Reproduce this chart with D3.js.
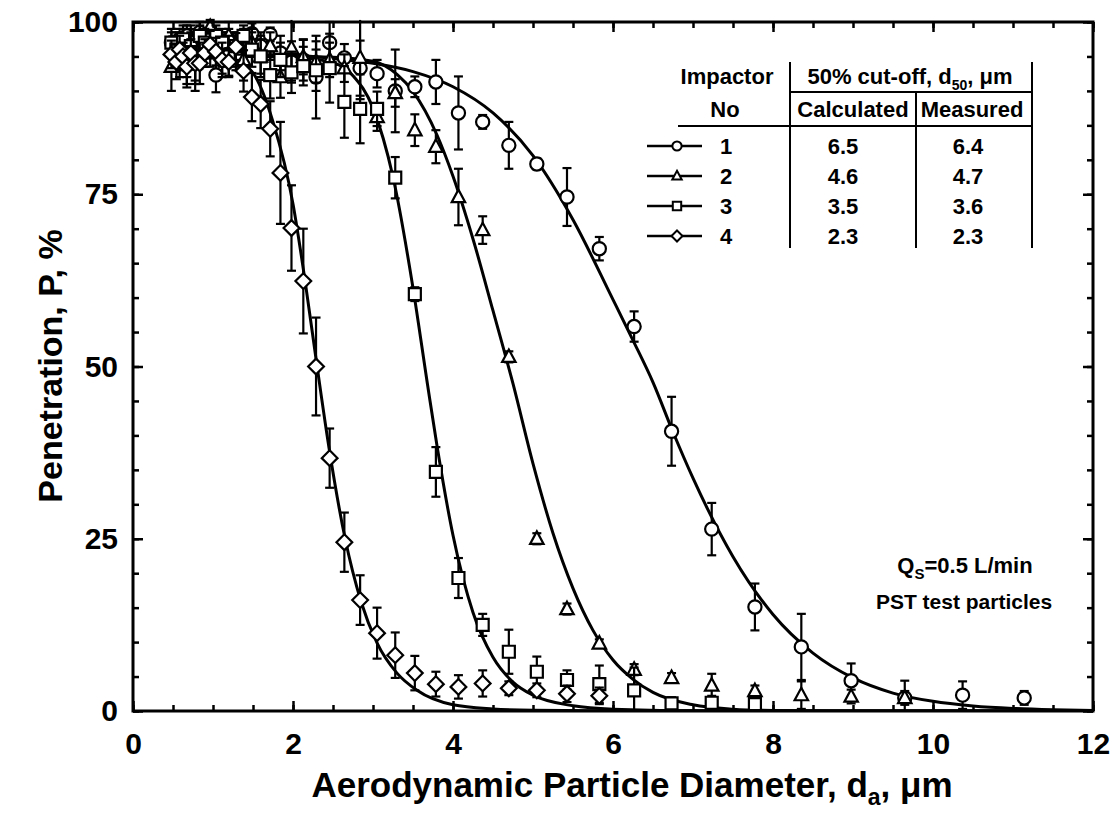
<!DOCTYPE html>
<html><head><meta charset="utf-8">
<script src="https://cdn.jsdelivr.net/npm/d3@7/dist/d3.min.js"></script>
<style>
body{margin:0;background:#fff}
svg{display:block}
text{font-family:"Liberation Sans",Arial,sans-serif;font-weight:bold;fill:#000}
</style>
</head><body>
<svg id="chart" width="1117" height="827"></svg>
<script>
// ---------- data ----------
const xTickValues = [0, 2, 4, 6, 8, 10, 12];
const yTickValues = [0, 25, 50, 75, 100];
const xTickLabels = ["0", "2", "4", "6", "8", "10", "12"];
const yTickLabels = ["0", "25", "50", "75", "100"];

// aerodynamic diameters (µm) of the measured channels
const diameters = [0.48,0.542,0.583,0.626,0.673,0.723,0.777,0.835,0.898,0.965,
  1.037,1.114,1.197,1.286,1.382,1.486,1.596,1.715,1.843,1.981,
  2.129,2.288,2.458,2.642,2.839,3.051,3.278,3.523,3.786,4.068,
  4.371,4.698,5.048,5.425,5.829,6.264,6.732,7.234,7.774,8.354,
  8.977,9.647,10.37,11.14];

// Impactor 1 (circles)
const pen1 = [97,96,97.5,96.5,98,97,96,98.5,97,98, 92.3,96,97.5,95,97,98.3,96.5,98.2,95.5,94.2,
  94.5,92,97,94.8,93.3,92.5,90,90.6,91.3,86.8, 85.5,82.1,79.4,74.6,67.1,55.8,40.6,26.4,15.1,9.3, 4.4,1.9,2.3,1.9];
const err1 = [1.5,2,1.5,2,1.5,2,2.5,1.5,2,2, 2.5,2.5,1.5,2,2,1.5,2,1,2.5,3,
  3,6,3,2,4,2,6,1.5,3.2,5.3, 1,3.4,0.8,4.2,1.7,2.2,5,3.8,3.4,4.8, 2.5,2.5,2,1];
// Impactor 2 (triangles)
const pen2 = [93.5,95,96,97,95,97.5,94,98,96,99.3, 97,95.5,98,96,94.5,97,95,96.5,92,96.2,
  94.9,94.2,94.5,93.3,94.8,86.2,89.7,84.3,81.9,74.6, 69.8,51.4,25,14.8,9.8,6,4.8,3.7,2.9,2.3, 2.1,1.9];
const err2 = [3.5,2,2.5,2,3,2,3,2,2.5,1, 2,3,2,2.5,3,2,2.5,2,3,4.7,
  2.5,3,2.5,2,6,2,2,2.3,2.4,4.1, 2,0.8,0.8,0.8,0.6,0.8,0.7,1.7,0.8,2, 1,1];
// Impactor 3 (squares)
const pen3 = [97,96,95,97.5,94,96.5,94,98,97,96, 98,97,95,96.5,98,96,95,92.3,94.5,92.7,
  93.6,93,93.3,88.4,87.4,87.4,77.4,60.5,34.7,19.3, 12.5,8.6,5.7,4.5,3.9,3.0,1.1,1.2,1.0];
const err3 = [2,2.5,3,2,3,2,4,1.5,2,2.5, 1.5,2,3,2,1.5,2.5,3,3.4,2.5,3,
  2.8,3,5,5.2,5,2.5,3,1,3.6,2.9, 1.6,3.2,2.2,1.4,2.7,3.3,0.9,1,0.8];
// Impactor 4 (diamonds)
const pen4 = [95.3,94.2,96,95,93.5,95.5,94,94,95.5,96.7, 95.7,94.5,94.2,96.4,92.9,89.1,88.1,84.5,78.1,70.1,
  62.4,50,36.7,24.5,16.1,11.3,8.1,5.5,3.9,3.5, 4.0,3.3,3.0,2.5,2.2];
const err4 = [2,2.5,2,2,3,2,2.5,3,2,2, 2,2.5,2,2,3,3.5,3.5,4,7.4,6.2,
  7.6,7.1,4.3,4.3,3.6,3.7,3.3,2.5,1.8,1.7, 1.9,1,1,1.2,1.2];

// fitted curves: [diameter, penetration]
const fit1 = [[0.5,95.3],[1,95.3],[1.5,95.3],[2,95.2],[2.5,94.7],[3,94],[3.5,92.8],[4,90.6],[4.5,86.8],[5,80.6],
  [5.5,71.3],[6,59.7],[6.25,53.8],[6.5,47.7],[6.75,40.5],[7,33.8],[7.5,22.4],[8,14],[8.5,8.4],[9,4.8],
  [9.5,2.6],[10,1.4],[10.5,0.74],[11,0.38],[11.5,0.19],[12,0.09]];
const fit2 = [[0.5,95],[1.5,95],[2,95],[2.5,94.9],[3,94.3],[3.3,92.4],[3.5,89.9],[3.8,83.6],[4,77.6],[4.25,68.5],
  [4.5,58.1],[4.75,47.5],[5,35.9],[5.25,25.8],[5.5,17.8],[5.75,11.7],[6,7.4],[6.25,4.6],[6.5,2.7],[7,0.9],
  [7.5,0.27],[8,0.08],[9,0.01],[12,0]];
const fit3 = [[0.5,95],[1.5,95],[2,94.9],[2.5,94.1],[2.75,92.2],[3,87.5],[3.25,77.5],[3.5,61.4],[3.68,47.5],
  [3.8,38.5],[4,25.5],[4.25,14.3],[4.5,7.8],[4.75,4.2],[5,2.3],[5.5,0.76],[6,0.27],[7,0.04],[8,0.01],[12,0]];
const fit4 = [[0.5,95.3],[1,95.2],[1.25,94.6],[1.5,92.6],[1.75,85.5],[2,73.6],[2.15,62.5],[2.3,50.1],[2.45,38.2],
  [2.65,25.1],[2.85,15.9],[3.05,9.9],[3.3,5.5],[3.55,3.0],[4,0.9],[4.5,0.3],[5,0.1],[6,0.02],[12,0]];

// legend table
const impactorNo = ["1", "2", "3", "4"];
const calcD50 = ["6.5", "4.6", "3.5", "2.3"];
const measD50 = ["6.4", "4.7", "3.6", "2.3"];

// ---------- layout ----------
const svg = d3.select("#chart");
const X0 = 133, X1 = 1093, Y0 = 22, Y1 = 711;
const x = d3.scaleLinear().domain([0, 12]).range([X0, X1]);
const y = d3.scaleLinear().domain([0, 100]).range([Y1, Y0]);

// marker shapes
const shapes = {
  circle: r => `M${-r},0A${r},${r} 0 1,0 ${r},0A${r},${r} 0 1,0 ${-r},0Z`,
  triangle: r => `M0,${-r*1.15}L${r*1.05},${r*0.8}L${-r*1.05},${r*0.8}Z`,
  square: r => `M${-r},${-r}H${r}V${r}H${-r}Z`,
  diamond: r => `M0,${-r*1.25}L${r*1.25},0L0,${r*1.25}L${-r*1.25},0Z`
};
const seriesList = [
  {pen: pen1, err: err1, fit: fit1, shape: "circle", r: 6.6},
  {pen: pen2, err: err2, fit: fit2, shape: "triangle", r: 6.4},
  {pen: pen3, err: err3, fit: fit3, shape: "square", r: 6},
  {pen: pen4, err: err4, fit: fit4, shape: "diamond", r: 6.3}
];

// curves
const line = d3.line().x(d => x(d[0])).y(d => y(d[1])).curve(d3.curveMonotoneX);
const plot = svg.append("g");
plot.append("defs").append("clipPath").attr("id", "clip")
  .append("rect").attr("x", X0).attr("y", Y0 - 10).attr("width", X1 - X0).attr("height", Y1 - Y0 + 10);
seriesList.forEach(s => {
  plot.append("path").datum(s.fit).attr("d", line)
    .attr("fill", "none").attr("stroke", "#000").attr("stroke-width", 3)
    .attr("clip-path", "url(#clip)");
});

// error bars + markers
seriesList.forEach(s => {
  const pts = s.pen.map((p, i) => ({d: diameters[i], p: p, e: s.err[i]}));
  const g = plot.append("g");
  const eb = g.selectAll("g.eb").data(pts).join("g").attr("class", "eb");
  eb.append("line").attr("x1", d => x(d.d)).attr("x2", d => x(d.d))
    .attr("y1", d => y(Math.min(100.3, d.p + d.e))).attr("y2", d => y(Math.max(0, d.p - d.e)))
    .attr("stroke", "#000").attr("stroke-width", 2.2);
  eb.filter(d => d.p + d.e <= 100.3).append("line")
    .attr("x1", d => x(d.d) - 4.5).attr("x2", d => x(d.d) + 4.5)
    .attr("y1", d => y(d.p + d.e)).attr("y2", d => y(d.p + d.e))
    .attr("stroke", "#000").attr("stroke-width", 2.2);
  eb.filter(d => d.p - d.e >= 0).append("line")
    .attr("x1", d => x(d.d) - 4.5).attr("x2", d => x(d.d) + 4.5)
    .attr("y1", d => y(d.p - d.e)).attr("y2", d => y(d.p - d.e))
    .attr("stroke", "#000").attr("stroke-width", 2.2);
  g.selectAll("path.m").data(pts).join("path").attr("class", "m")
    .attr("d", shapes[s.shape](s.r))
    .attr("transform", d => `translate(${x(d.d)},${y(d.p)})`)
    .attr("fill", "#fff").attr("stroke", "#000").attr("stroke-width", 2.2);
});

// ---------- axes ----------
const minorX = d3.range(0, 12.01, 0.5);
const minorY = d3.range(0, 100.1, 5);
const axB = d3.axisBottom(x).tickValues(xTickValues).tickFormat((d, i) => xTickLabels[i]).tickSizeInner(-10).tickSizeOuter(0).tickPadding(22);
const axL = d3.axisLeft(y).tickValues(yTickValues).tickFormat((d, i) => yTickLabels[i]).tickSizeInner(-10).tickSizeOuter(0).tickPadding(15);
const axT = d3.axisTop(x).tickValues(xTickValues).tickFormat("").tickSizeInner(-10).tickSizeOuter(0);
const axR = d3.axisRight(y).tickValues(yTickValues).tickFormat("").tickSizeInner(-10).tickSizeOuter(0);
const mB = d3.axisBottom(x).tickValues(minorX).tickFormat("").tickSizeInner(-6).tickSizeOuter(0);
const mL = d3.axisLeft(y).tickValues(minorY).tickFormat("").tickSizeInner(-6).tickSizeOuter(0);
const mT = d3.axisTop(x).tickValues(minorX).tickFormat("").tickSizeInner(-6).tickSizeOuter(0);
const mR = d3.axisRight(y).tickValues(minorY).tickFormat("").tickSizeInner(-6).tickSizeOuter(0);

function styleAxis(g) {
  g.selectAll("path.domain").remove();
  g.selectAll("line").attr("stroke", "#000").attr("stroke-width", 2.5);
  g.selectAll("text").attr("font-size", 30).style("font-family", '"Liberation Sans",Arial,sans-serif').style("font-weight", "bold");
}
svg.append("g").attr("transform", `translate(0,${Y1})`).call(mB).call(styleAxis);
svg.append("g").attr("transform", `translate(${X0},0)`).call(mL).call(styleAxis);
svg.append("g").attr("transform", `translate(0,${Y0})`).call(mT).call(styleAxis);
svg.append("g").attr("transform", `translate(${X1},0)`).call(mR).call(styleAxis);
svg.append("g").attr("transform", `translate(0,${Y1})`).call(axB).call(styleAxis);
svg.append("g").attr("transform", `translate(${X0},0)`).call(axL).call(styleAxis);
svg.append("g").attr("transform", `translate(0,${Y0})`).call(axT).call(styleAxis);
svg.append("g").attr("transform", `translate(${X1},0)`).call(axR).call(styleAxis);

// frame
svg.append("rect").attr("x", X0).attr("y", Y0).attr("width", X1 - X0).attr("height", Y1 - Y0)
  .attr("fill", "none").attr("stroke", "#000").attr("stroke-width", 3);

// axis titles
const xt = svg.append("text").attr("x", 632).attr("y", 797).attr("text-anchor", "middle").attr("font-size", 35);
xt.append("tspan").text("Aerodynamic Particle Diameter, d");
xt.append("tspan").attr("font-size", 23).attr("dy", 8).text("a");
xt.append("tspan").attr("dy", -8).text(", \u03BCm");

svg.append("text").attr("transform", `translate(62,366) rotate(-90)`)
  .attr("text-anchor", "middle").attr("font-size", 34).text("Penetration, P, %");

// ---------- legend table ----------
const leg = svg.append("g");
const lineStyle = s => s.attr("stroke", "#000").attr("stroke-width", 2);
leg.append("line").attr("x1", 790).attr("x2", 790).attr("y1", 62).attr("y2", 248).call(lineStyle);
leg.append("line").attr("x1", 916).attr("x2", 916).attr("y1", 92).attr("y2", 248).call(lineStyle);
leg.append("line").attr("x1", 1032).attr("x2", 1032).attr("y1", 62).attr("y2", 248).call(lineStyle);
leg.append("line").attr("x1", 790).attr("x2", 1032).attr("y1", 92).attr("y2", 92).call(lineStyle);
leg.append("line").attr("x1", 678).attr("x2", 1032).attr("y1", 126).attr("y2", 126).call(lineStyle);

const FS = 22;
leg.append("text").attr("x", 727).attr("y", 84).attr("text-anchor", "middle").attr("font-size", FS).text("Impactor");
leg.append("text").attr("x", 725).attr("y", 117).attr("text-anchor", "middle").attr("font-size", FS).text("No");
const h = leg.append("text").attr("x", 910).attr("y", 84).attr("text-anchor", "middle").attr("font-size", FS);
h.append("tspan").text("50% cut-off, d");
h.append("tspan").attr("font-size", 14).attr("dy", 6).text("50");
h.append("tspan").attr("dy", -6).text(", \u03BCm");
leg.append("text").attr("x", 853).attr("y", 117).attr("text-anchor", "middle").attr("font-size", FS).text("Calculated");
leg.append("text").attr("x", 972).attr("y", 117).attr("text-anchor", "middle").attr("font-size", FS).text("Measured");

const rowY = [146, 176, 206, 236];
seriesList.forEach((s, i) => {
  leg.append("line").attr("x1", 647).attr("x2", 702).attr("y1", rowY[i]).attr("y2", rowY[i])
    .attr("stroke", "#000").attr("stroke-width", 2.5);
  leg.append("path").attr("d", shapes[s.shape](s.r * 0.7)).attr("transform", `translate(677,${rowY[i]})`)
    .attr("fill", "#fff").attr("stroke", "#000").attr("stroke-width", 2);
  leg.append("text").attr("x", 726).attr("y", rowY[i] + 8).attr("text-anchor", "middle").attr("font-size", FS).text(impactorNo[i]);
  leg.append("text").attr("x", 843).attr("y", rowY[i] + 8).attr("text-anchor", "middle").attr("font-size", FS).text(calcD50[i]);
  leg.append("text").attr("x", 968).attr("y", rowY[i] + 8).attr("text-anchor", "middle").attr("font-size", FS).text(measD50[i]);
});

// annotation
const q = svg.append("text").attr("x", 965).attr("y", 573).attr("text-anchor", "middle").attr("font-size", 22);
q.append("tspan").text("Q");
q.append("tspan").attr("font-size", 15).attr("dy", 6).text("S");
q.append("tspan").attr("dy", -6).text("=0.5 L/min");
svg.append("text").attr("x", 964).attr("y", 609).attr("text-anchor", "middle").attr("font-size", 21).text("PST test particles");
</script>
</body></html>
